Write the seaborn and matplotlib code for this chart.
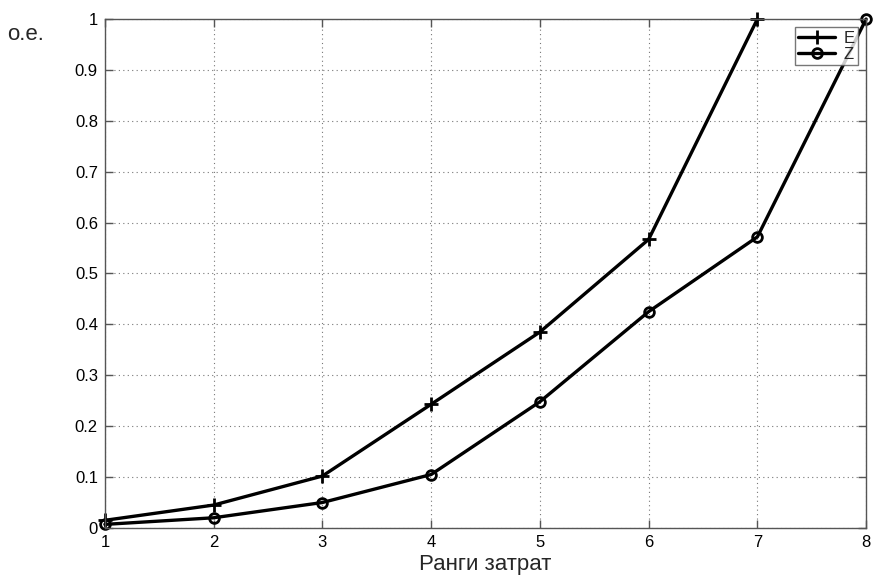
import matplotlib
matplotlib.use("Agg")
import matplotlib.pyplot as plt
import seaborn as sns

# ranks of costs and the two normalised series
ranks_e = [1, 2, 3, 4, 5, 6, 7]
values_e = [0.015, 0.045, 0.102, 0.243, 0.385, 0.567, 1.0]
ranks_z = [1, 2, 3, 4, 5, 6, 7, 8]
values_z = [0.007, 0.020, 0.050, 0.105, 0.248, 0.425, 0.572, 1.0]
x_ticks = [1, 2, 3, 4, 5, 6, 7, 8]
y_ticks = [0, 0.1, 0.2, 0.3, 0.4, 0.5, 0.6, 0.7, 0.8, 0.9, 1]
y_labels = ["0", "0.1", "0.2", "0.3", "0.4", "0.5", "0.6", "0.7", "0.8", "0.9", "1"]

sns.set_theme(style="white")
plt.rcParams["font.family"] = ["Liberation Sans", "DejaVu Sans"]

fig = plt.figure(figsize=(8.74, 5.77), dpi=100)
ax = fig.add_axes([0.120, 0.085, 0.871, 0.882])

common = dict(color="black", linewidth=2.4, markeredgewidth=2.0,
              markeredgecolor="black", clip_on=False, ax=ax)
sns.lineplot(x=ranks_e, y=values_e, marker="+", markersize=10, label="E", **common)
sns.lineplot(x=ranks_z, y=values_z, marker="o", markersize=7, markerfacecolor="none",
             label="Z", **common)

ax.set_xlim(1, 8)
ax.set_ylim(0, 1)
ax.set_xticks(x_ticks)
ax.set_xticklabels([str(t) for t in x_ticks])
ax.set_yticks(y_ticks)
ax.set_yticklabels(y_labels)
ax.grid(True, linestyle=(0, (1, 3)), color="#777777", linewidth=0.8)
for spine in ax.spines.values():
    spine.set_color("#555555")
    spine.set_linewidth(1.0)
ax.tick_params(direction="in", length=6, width=1, colors="#555555", labelcolor="black",
               labelsize=12, top=True, right=True, bottom=True, left=True, pad=5)

ax.set_xlabel("Ранги затрат", fontsize=16, labelpad=3)
ax.set_ylabel("")
fig.text(0.008, 0.93, "о.е.", fontsize=16)

leg = ax.legend(loc="upper right", fontsize=12, frameon=True, fancybox=False,
                handlelength=2.2, borderpad=0.2, labelspacing=0.05,
                handletextpad=0.5, borderaxespad=0.5)
leg.get_frame().set_edgecolor("#555555")
leg.get_frame().set_linewidth(1.0)

fig.savefig("out.png", dpi=100)
